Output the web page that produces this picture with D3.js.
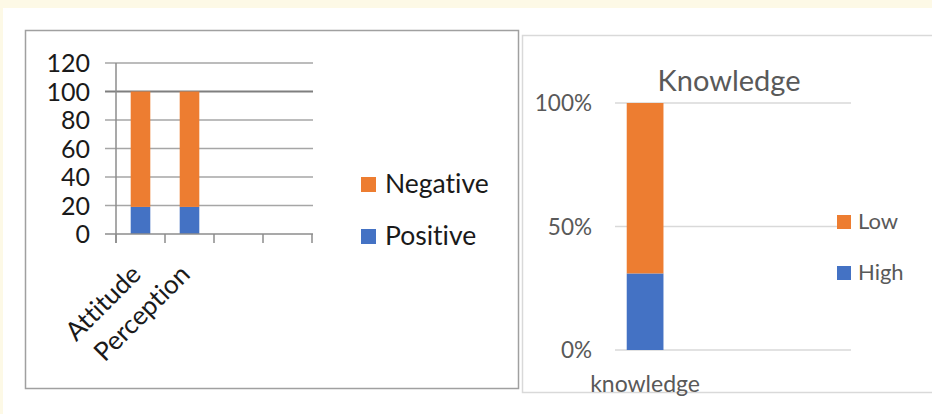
<!DOCTYPE html>
<html lang="en">
<head>
  <meta charset="UTF-8">
  <title>Attitude, Perception and Knowledge</title>
  <script src="https://d3js.org/d3.v7.min.js"></script>
  <style>
    body { margin: 0; background: #fdf9e6; }
    svg text { font-family: Lato, "Open Sans", sans-serif; font-variant-ligatures: none; }
    .grid-left { stroke: #a6a6a6; stroke-width: 1.3px; }
    .grid-right { stroke: #d9d9d9; stroke-width: 1.3px; }
  </style>
</head>
<body>
  <svg width="932" height="414"></svg>
  <script>
    // left chart: attitude & perception (counts, stacked)
    const leftCategories = ["Attitude", "Perception", "", " "];
    const leftPositive = [19, 19];
    const leftNegative = [81, 81];
    const leftTicks = [0, 20, 40, 60, 80, 100, 120];

    // right chart: knowledge (percent stacked)
    const rightCategories = ["knowledge", "", " ", "  "];
    const rightHigh = [31];
    const rightLow = [69];
    const rightTicks = [0, 50, 100];

    const orange = "#ed7d31", blue = "#4472c4";

    const svg = d3.select("svg");

    svg.append("rect").attr("x", 3).attr("y", 8)
      .attr("width", 929).attr("height", 406).attr("fill", "#fff");

    // ---------- left panel ----------
    svg.append("rect")
      .attr("x", 25.5).attr("y", 30.5).attr("width", 493).attr("height", 358)
      .attr("fill", "#fff").attr("stroke", "#a0a0a0").attr("stroke-width", 1.5);

    const xL = d3.scaleBand().domain(leftCategories).range([116, 312])
      .paddingInner(0.6).paddingOuter(0.3);
    const yL = d3.scaleLinear().domain([0, 120]).range([234, 63]);

    const gL = svg.append("g");

    gL.selectAll(".grid-left")
      .data(leftTicks.filter(t => t > 0))
      .join("line")
        .attr("class", "grid-left")
        .attr("x1", 105).attr("x2", 313)
        .attr("y1", d => yL(d)).attr("y2", d => yL(d))
        .style("stroke", d => d === 100 ? "#7f7f7f" : null)
        .style("stroke-width", d => d === 100 ? "2.2px" : null);

    const dataL = leftCategories.slice(0, 2).map((c, i) =>
      ({cat: c, Positive: leftPositive[i], Negative: leftNegative[i]}));
    const stackL = d3.stack().keys(["Positive", "Negative"])(dataL);

    gL.selectAll(".layer")
      .data(stackL)
      .join("g")
        .attr("fill", d => d.key === "Positive" ? blue : orange)
      .selectAll("rect")
      .data(d => d)
      .join("rect")
        .attr("x", d => xL(d.data.cat))
        .attr("width", xL.bandwidth())
        .attr("y", d => yL(d[1]))
        .attr("height", d => yL(d[0]) - yL(d[1]));

    // axes
    gL.append("line").attr("x1", 105).attr("x2", 313)
      .attr("y1", yL(0)).attr("y2", yL(0))
      .attr("stroke", "#8c8c8c").attr("stroke-width", 1.5);
    gL.append("line").attr("x1", 116).attr("x2", 116)
      .attr("y1", yL(120)).attr("y2", 243)
      .attr("stroke", "#8c8c8c").attr("stroke-width", 1.5);
    const step = xL.step();
    gL.selectAll(".xtick")
      .data(d3.range(leftCategories.length + 1))
      .join("line")
        .attr("x1", i => xL.range()[0] + i * step)
        .attr("x2", i => xL.range()[0] + i * step)
        .attr("y1", yL(0)).attr("y2", 243)
        .attr("stroke", "#8c8c8c").attr("stroke-width", 1.5);

    gL.selectAll(".ylab")
      .data(leftTicks)
      .join("text")
        .attr("x", 90).attr("y", d => yL(d))
        .attr("dy", "0.36em")
        .attr("text-anchor", "end")
        .attr("font-size", 25)
        .attr("fill", "#1a1a1a")
        .text(d => d);

    gL.selectAll(".xlab")
      .data(leftCategories.filter(c => c.trim()))
      .join("text")
        .attr("text-anchor", "end")
        .attr("font-size", 26)
        .attr("fill", "#1a1a1a")
        .attr("transform", d => `translate(${xL(d) + xL.bandwidth() / 2 + 2},276) rotate(-45)`)
        .text(d => d);

    const legL = [{k: "Negative", c: orange, y: 185}, {k: "Positive", c: blue, y: 237}];
    legL.forEach(l => {
      gL.append("rect").attr("x", 361).attr("y", l.y - 8)
        .attr("width", 15).attr("height", 15).attr("fill", l.c);
      gL.append("text").attr("x", 385).attr("y", l.y + 8)
        .attr("font-size", 26.5).attr("fill", "#1a1a1a").text(l.k);
    });

    // ---------- right panel ----------
    svg.append("rect")
      .attr("x", 522.5).attr("y", 35.5).attr("width", 420).attr("height", 357)
      .attr("fill", "#fff").attr("stroke", "#d9d9d9").attr("stroke-width", 1.5);

    const xR = d3.scaleBand().domain(rightCategories).range([615, 851])
      .paddingInner(0.373).paddingOuter(0.2);
    const yR = d3.scaleLinear().domain([0, 100]).range([350, 103]);

    const gR = svg.append("g");

    gR.selectAll(".grid-right")
      .data(rightTicks)
      .join("line")
        .attr("class", "grid-right")
        .attr("x1", 615).attr("x2", 851)
        .attr("y1", d => yR(d)).attr("y2", d => yR(d));

    const dataR = rightCategories.slice(0, 1).map((c, i) =>
      ({cat: c, High: rightHigh[i], Low: rightLow[i]}));
    const stackR = d3.stack().keys(["High", "Low"])(dataR);

    gR.selectAll(".layer")
      .data(stackR)
      .join("g")
        .attr("fill", d => d.key === "High" ? blue : orange)
      .selectAll("rect")
      .data(d => d)
      .join("rect")
        .attr("x", d => xR(d.data.cat))
        .attr("width", xR.bandwidth())
        .attr("y", d => yR(d[1]))
        .attr("height", d => yR(d[0]) - yR(d[1]));

    gR.selectAll(".ylab")
      .data(rightTicks)
      .join("text")
        .attr("x", 592).attr("y", d => yR(d))
        .attr("dy", "0.36em")
        .attr("text-anchor", "end")
        .attr("font-size", 22.5)
        .attr("fill", "#595959")
        .text(d => d + "%");

    gR.append("text")
      .attr("x", xR("knowledge") + xR.bandwidth() / 2).attr("y", 392)
      .attr("text-anchor", "middle")
      .attr("font-size", 23).attr("fill", "#595959")
      .text(rightCategories[0]);

    gR.append("text")
      .attr("x", 729).attr("y", 91)
      .attr("text-anchor", "middle")
      .attr("font-size", 29).attr("fill", "#595959")
      .text("Knowledge");

    const legR = [{k: "Low", c: orange, y: 222}, {k: "High", c: blue, y: 273}];
    legR.forEach(l => {
      gR.append("rect").attr("x", 837).attr("y", l.y - 7)
        .attr("width", 14).attr("height", 14).attr("fill", l.c);
      gR.append("text").attr("x", 858).attr("y", l.y + 7)
        .attr("font-size", 22).attr("fill", "#595959").text(l.k);
    });
  </script>
</body>
</html>
